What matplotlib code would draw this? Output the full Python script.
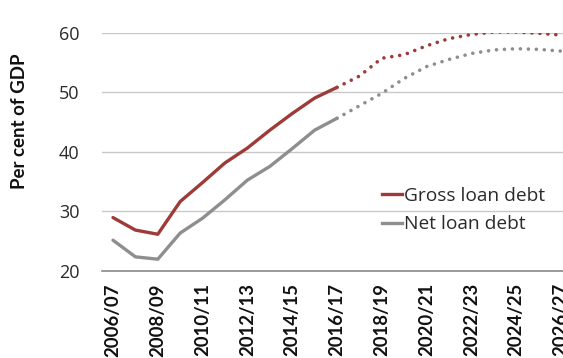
import matplotlib
matplotlib.use("Agg")
import matplotlib.pyplot as plt
from matplotlib.lines import Line2D

# fiscal years, 2006/07 .. 2026/27
years = ["2006/07", "2007/08", "2008/09", "2009/10", "2010/11", "2011/12",
         "2012/13", "2013/14", "2014/15", "2015/16", "2016/17", "2017/18",
         "2018/19", "2019/20", "2020/21", "2021/22", "2022/23", "2023/24",
         "2024/25", "2025/26", "2026/27"]
gross_debt = [28.9, 26.8, 26.1, 31.6, 34.8, 38.1, 40.6, 43.6, 46.4, 49.0, 50.8,
              52.7, 55.7, 56.3, 57.8, 59.0, 59.7, 60.1, 60.1, 59.9, 59.6]
net_debt = [25.1, 22.3, 21.9, 26.3, 28.8, 31.9, 35.2, 37.5, 40.5, 43.6, 45.6,
            47.7, 49.8, 52.3, 54.3, 55.5, 56.5, 57.1, 57.3, 57.2, 56.9]
last_actual = 10  # 2016/17, forecasts after this

red = "#9E3B39"
grey = "#8E8E8E"

fig = plt.figure(figsize=(5.63, 3.58), dpi=100)
ax = fig.add_axes([0.1808, 0.2444, 0.8355, 0.6643])

x = list(range(len(years)))
for vals, col in [(gross_debt, red), (net_debt, grey)]:
    ax.plot(x[:last_actual + 1], vals[:last_actual + 1], color=col, lw=2.4,
            solid_capstyle="round")
    ax.plot(x[last_actual:], vals[last_actual:], color=col, lw=2.6,
            linestyle=(0, (0.01, 2.2)), dash_capstyle="round")

ax.set_xlim(-0.5, len(years) - 0.5)
ax.set_ylim(20, 60)
ax.set_yticks([20, 30, 40, 50, 60])
ax.yaxis.grid(True, color="#C8C8C8", lw=1.0)
ax.set_axisbelow(True)
for s in ["top", "right", "left"]:
    ax.spines[s].set_visible(False)
ax.spines["bottom"].set_color("#8A8A8A")
ax.spines["bottom"].set_linewidth(1.2)

ax.set_xticks(x[::2])
ax.set_xticklabels(years[::2], rotation=90, fontfamily="Lato",
                   fontweight="bold", fontsize=13.3, color="#111111")
ax.tick_params(axis="x", length=0, pad=9)
ax.tick_params(axis="y", length=0, pad=16)
for lab in ax.get_yticklabels():
    lab.set_fontfamily("Open Sans")
    lab.set_fontsize(13)
    lab.set_color("#2a2a2a")

fig.text(20 / 563, 1 - 121.5 / 358, "Per cent of GDP", rotation=90,
         ha="center", va="center", fontfamily="Lato", fontweight="bold",
         fontsize=13.5, color="#111111")

handles = [Line2D([], [], color=red, lw=2.4), Line2D([], [], color=grey, lw=2.4)]
leg = fig.legend(handles, ["Gross loan debt", "Net loan debt"],
                 loc="center left", bbox_to_anchor=(372 / 563, 1 - 210 / 358),
                 frameon=False, handlelength=1.05, handletextpad=0.1,
                 labelspacing=0.55, borderpad=0,
                 prop={"family": "Open Sans", "size": 13.8})
for t in leg.get_texts():
    t.set_color("#2a2a2a")

fig.savefig("out.png", dpi=100)
